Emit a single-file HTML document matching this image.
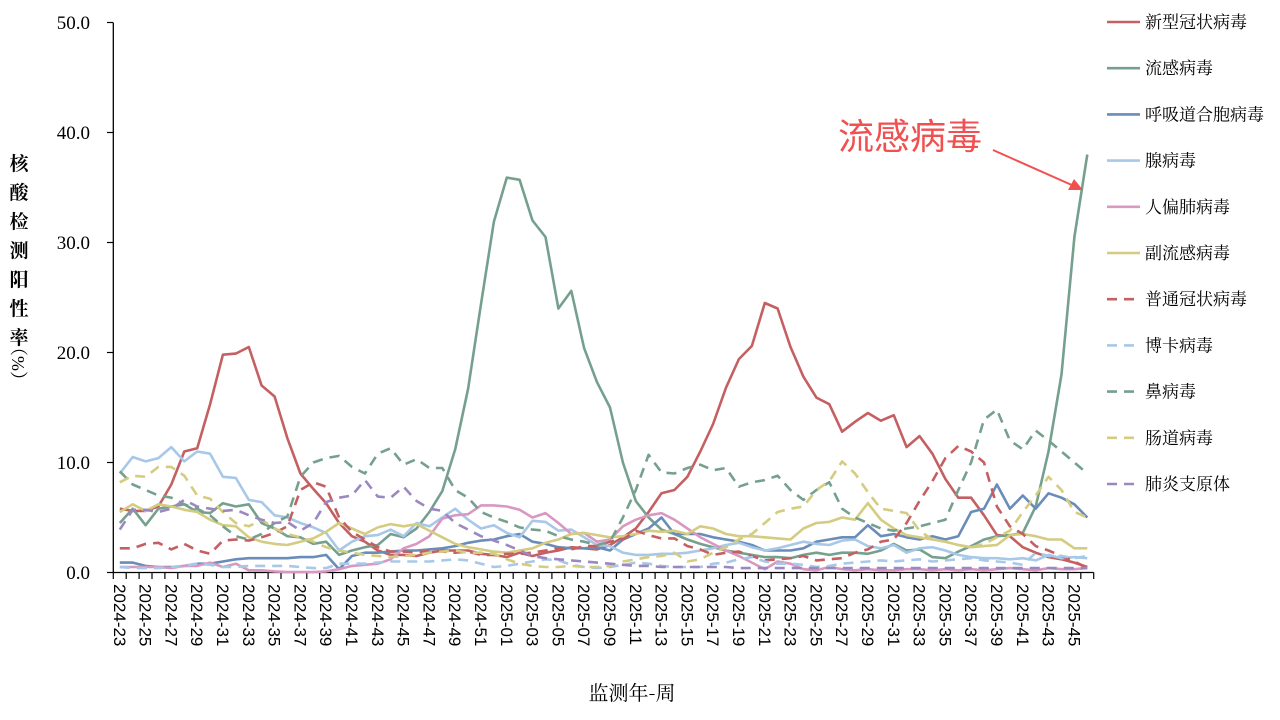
<!DOCTYPE html>
<html><head><meta charset="utf-8"><style>
html,body{margin:0;padding:0;background:#fff;}
svg{display:block;}
</style></head><body>
<svg id="c" width="1280" height="720" xmlns="http://www.w3.org/2000/svg"></svg>
<script>
const S={
covid:[5.8,5.6,5.6,6.0,8.0,11.0,11.3,15.3,19.8,19.9,20.5,17.0,16.0,12.2,9.0,7.6,6.3,4.5,3.3,2.8,2.0,1.6,1.6,1.5,1.8,2.0,2.0,2.0,1.7,1.6,1.4,1.8,1.5,1.8,2.0,2.3,2.2,2.1,2.5,3.2,4.0,5.5,7.2,7.5,8.7,11.0,13.5,16.8,19.4,20.6,24.5,24.0,20.5,17.8,15.9,15.3,12.8,13.7,14.5,13.8,14.3,11.4,12.4,10.8,8.5,6.8,6.8,5.2,3.4,3.3,2.3,1.8,1.4,1.2,0.9,0.5],
flu:[4.5,5.8,4.3,5.8,6.0,6.2,5.5,5.4,6.3,6.0,6.2,4.5,4.0,3.3,3.2,2.6,2.8,1.6,2.0,2.3,2.5,3.5,3.2,4.0,5.5,7.4,11.2,16.7,24.4,31.9,35.9,35.7,32.0,30.5,24.0,25.6,20.4,17.3,15.0,10.0,6.5,5.0,3.9,3.5,3.0,2.6,2.3,2.0,1.8,1.6,1.4,1.4,1.3,1.6,1.8,1.6,1.8,1.8,1.7,2.0,2.6,2.0,2.1,1.4,1.3,1.9,2.4,3.0,3.3,3.4,3.6,6.0,11.0,18.0,30.5,38.0],
rsv:[0.9,0.9,0.6,0.5,0.5,0.6,0.8,0.8,1.0,1.2,1.3,1.3,1.3,1.3,1.4,1.4,1.6,0.3,1.5,1.8,1.8,1.9,2.0,2.0,2.1,2.2,2.4,2.7,2.9,3.0,3.3,3.5,2.8,2.6,2.3,2.2,2.2,2.3,2.0,3.0,3.5,4.0,5.0,3.5,3.5,3.5,3.2,3.0,2.8,2.5,2.0,2.0,2.0,2.2,2.8,3.0,3.2,3.2,4.3,3.3,3.5,3.2,3.0,3.3,3.0,3.3,5.5,5.8,8.0,5.8,7.0,5.8,7.2,6.8,6.2,5.0],
adeno:[9.0,10.5,10.1,10.4,11.4,10.1,11.0,10.8,8.7,8.6,6.6,6.4,5.2,5.0,4.5,4.1,3.6,2.0,2.8,3.3,3.4,3.9,3.3,4.5,4.2,5.0,5.8,4.8,4.0,4.3,3.6,3.2,4.7,4.6,3.8,3.9,3.2,2.5,2.4,1.8,1.6,1.6,1.7,1.7,1.8,2.0,2.2,2.5,2.7,2.3,2.0,2.2,2.5,2.8,2.6,2.5,2.9,3.0,2.4,2.2,2.5,1.8,2.2,2.3,2.0,1.6,1.4,1.3,1.3,1.2,1.3,1.1,1.6,1.3,1.4,1.3],
hmpv:[0.5,0.5,0.5,0.5,0.4,0.6,0.6,0.9,0.5,0.8,0.2,0.2,0.1,0.05,0.05,0.05,0.1,0.3,0.6,0.7,0.8,1.2,2.2,2.6,3.3,4.9,5.2,5.3,6.1,6.1,6.0,5.7,5.0,5.4,4.5,3.5,3.6,2.8,3.0,4.2,4.8,5.2,5.4,4.8,4.0,3.2,2.6,2.0,1.5,0.9,0.3,1.0,0.8,0.3,0.2,0.5,0.3,0.2,0.3,0.2,0.2,0.3,0.3,0.2,0.3,0.2,0.3,0.2,0.3,0.4,0.3,0.2,0.4,0.3,0.3,0.4],
para:[5.5,6.2,5.6,6.2,6.0,5.7,5.5,4.8,4.3,4.2,3.2,2.8,2.6,2.5,2.8,3.1,3.7,4.5,4.0,3.5,4.1,4.4,4.2,4.4,3.8,3.2,2.6,2.3,2.1,1.9,1.8,2.0,2.2,2.7,3.0,3.5,3.6,3.4,3.2,3.3,3.5,3.8,3.7,3.8,3.5,4.2,4.0,3.5,3.3,3.3,3.2,3.1,3.0,4.0,4.5,4.6,5.0,4.8,6.3,4.8,4.0,3.4,3.2,3.0,2.8,2.5,2.3,2.4,2.5,3.4,3.5,3.3,3.0,3.0,2.2,2.2],
hcov:[2.2,2.2,2.6,2.7,2.1,2.6,2.0,1.7,2.9,3.0,2.9,3.2,3.6,4.2,7.5,8.2,7.8,5.0,3.7,3.0,2.3,1.9,1.9,1.8,2.0,1.9,1.8,1.9,1.6,1.6,1.7,1.7,1.8,2.0,2.2,2.1,2.4,2.4,2.8,3.0,3.8,3.4,3.1,3.1,2.4,2.1,1.6,1.8,1.9,1.5,1.1,1.2,1.3,1.5,1.1,1.2,1.3,1.8,2.1,2.8,3.0,4.5,6.5,8.3,10.4,11.5,11.0,10.0,6.0,4.2,3.5,2.4,2.0,1.5,1.0,0.4],
boca:[0.5,0.4,0.4,0.4,0.5,0.6,0.8,0.7,0.5,0.5,0.6,0.6,0.6,0.6,0.5,0.4,0.4,0.8,0.8,0.8,0.9,1.0,1.0,1.0,1.0,1.1,1.2,1.1,0.8,0.5,0.6,0.8,1.0,1.2,1.1,0.7,0.5,0.4,0.5,0.7,0.9,0.8,0.6,0.5,0.5,0.5,0.8,0.9,1.2,1.4,1.0,0.8,0.8,0.7,0.5,0.6,0.8,0.9,1.0,1.1,1.0,1.1,1.2,1.0,1.1,1.2,1.3,1.1,1.0,0.9,0.7,1.8,1.5,1.5,1.3,1.5],
rhino:[9.2,8.0,7.5,7.0,6.8,6.2,5.8,5.2,4.2,3.3,3.0,3.5,4.5,5.1,8.7,10.0,10.4,10.6,9.6,9.0,10.8,11.3,9.8,10.3,9.5,9.5,7.5,6.8,5.5,5.0,4.6,4.1,3.9,3.8,3.3,3.0,2.8,2.5,2.8,5.0,7.5,10.7,9.1,9.0,9.5,9.8,9.3,9.5,7.8,8.2,8.4,8.8,7.5,6.6,7.5,8.2,5.8,5.0,4.5,4.0,3.8,4.0,4.2,4.5,4.8,7.5,10.0,13.9,14.8,12.0,11.2,12.9,12.0,11.0,10.0,9.0],
entero:[8.2,8.8,8.7,9.6,9.6,8.8,7.0,6.7,5.5,4.5,4.2,4.8,4.0,3.5,3.2,2.8,2.3,2.0,1.8,1.6,1.5,1.4,1.5,1.6,1.8,1.9,2.0,1.8,1.8,1.7,1.2,0.8,0.6,0.5,0.5,0.6,0.5,0.5,0.6,1.0,1.2,1.4,1.5,1.8,1.0,1.2,1.8,2.3,3.0,3.5,4.5,5.5,5.8,6.0,7.5,8.3,10.1,9.0,7.3,5.8,5.6,5.4,3.8,3.0,2.8,2.5,2.3,2.6,3.2,3.8,5.5,7.0,8.7,7.5,5.5,5.0],
myco:[3.9,5.7,5.7,5.5,5.8,6.6,6.0,5.8,5.6,5.7,5.2,4.8,4.5,4.6,3.8,4.5,6.4,6.8,7.0,8.4,6.9,6.8,7.8,6.5,5.8,5.6,4.5,3.9,3.3,2.9,2.5,2.0,1.5,1.3,1.2,1.1,1.0,0.9,0.8,0.7,0.6,0.6,0.5,0.5,0.5,0.5,0.5,0.5,0.4,0.4,0.4,0.4,0.4,0.4,0.4,0.4,0.4,0.4,0.4,0.4,0.4,0.4,0.4,0.4,0.4,0.4,0.4,0.4,0.4,0.4,0.4,0.4,0.4,0.4,0.4,0.4]
};
const ser=[
["新型冠状病毒","covid","#c46062",0],["流感病毒","flu","#76a08e",0],["呼吸道合胞病毒","rsv","#6a8cb8",0],
["腺病毒","adeno","#a8c8e8",0],["人偏肺病毒","hmpv","#d898c0",0],["副流感病毒","para","#d4cc80",0],
["普通冠状病毒","hcov","#c46062",1],["博卡病毒","boca","#a8c8e8",1],["鼻病毒","rhino","#76a08e",1],
["肠道病毒","entero","#d4cc80",1],["肺炎支原体","myco","#9c88c0",1]];
const X0=113.3,W=12.9,Y0=572.5,K=11.0;
const px=i=>X0+W*(i+0.5), py=v=>Y0-v*K;
let h='';
h+=`<line x1="113.3" y1="22.5" x2="113.3" y2="573" stroke="#000" stroke-width="1.3"/>`;
h+=`<line x1="113" y1="572.5" x2="${X0+76*W}" y2="572.5" stroke="#000" stroke-width="1.3"/>`;
for(let t=0;t<=5;t++){const y=Y0-t*10*K;
h+=`<line x1="107" y1="${y}" x2="113" y2="${y}" stroke="#000" stroke-width="1.2"/>`;
h+=`<text x="90" y="${y+6.5}" text-anchor="end" font-family="Liberation Serif,serif" font-size="19">${t*10}.0</text>`;}
for(let i=0;i<=76;i++){const x=X0+W*i;h+=`<line x1="${x}" y1="572.5" x2="${x}" y2="579" stroke="#000" stroke-width="1.2"/>`;}
const lab=[];for(let w=23;w<=52;w++)lab.push('2024-'+w);for(let w=1;w<=46;w++)lab.push('2025-'+String(w).padStart(2,'0'));
for(let i=0;i<76;i+=2){const x=px(i);
h+=`<text transform="translate(${x-6},584) rotate(90)" font-family="Liberation Sans,sans-serif" font-size="17">${lab[i]}</text>`;}
for(const s of ser){const d=S[s[1]].map((v,i)=>(i?'L':'M')+px(i).toFixed(1)+' '+py(v).toFixed(1)).join('');
h+=`<path d="${d}" fill="none" stroke="${s[2]}" stroke-width="2.6" stroke-linejoin="round" ${s[3]?'stroke-dasharray="10 7"':''}/>`;}
ser.forEach((s,k)=>{const y=22+k*46.2;
h+=`<line x1="1107" y1="${y}" x2="1140" y2="${y}" stroke="${s[2]}" stroke-width="2.6" ${s[3]?'stroke-dasharray="10 7"':''}/>`;
h+=`<text x="1145" y="${y+6}" font-family="Liberation Serif,'Noto Serif CJK SC',serif" font-size="17">${s[0]}</text>`;});
const yt="核酸检测阳性率";for(let k=0;k<yt.length;k++)h+=`<text x="19" y="${170+k*29}" text-anchor="middle" font-family="'Noto Serif CJK SC',serif" font-weight="bold" font-size="19">${yt[k]}</text>`;
h+=`<text transform="translate(12,338) rotate(90)" font-family="Liberation Serif,'Noto Serif CJK SC',serif" font-size="18">（%）</text>`;
h+=`<text x="632" y="700" text-anchor="middle" font-family="'Noto Serif CJK SC',serif" font-size="20">监测年-周</text>`;
h+=`<text x="838" y="149" font-family="'Noto Sans CJK SC',sans-serif" font-size="36" fill="#f05050">流感病毒</text>`;
h+=`<line x1="993" y1="150" x2="1074" y2="186" stroke="#f05050" stroke-width="2"/>`;
h+=`<polygon points="1083,190 1068,190 1074,179" fill="#f05050"/>`;
document.getElementById('c').innerHTML=h;
</script>
</body></html>
